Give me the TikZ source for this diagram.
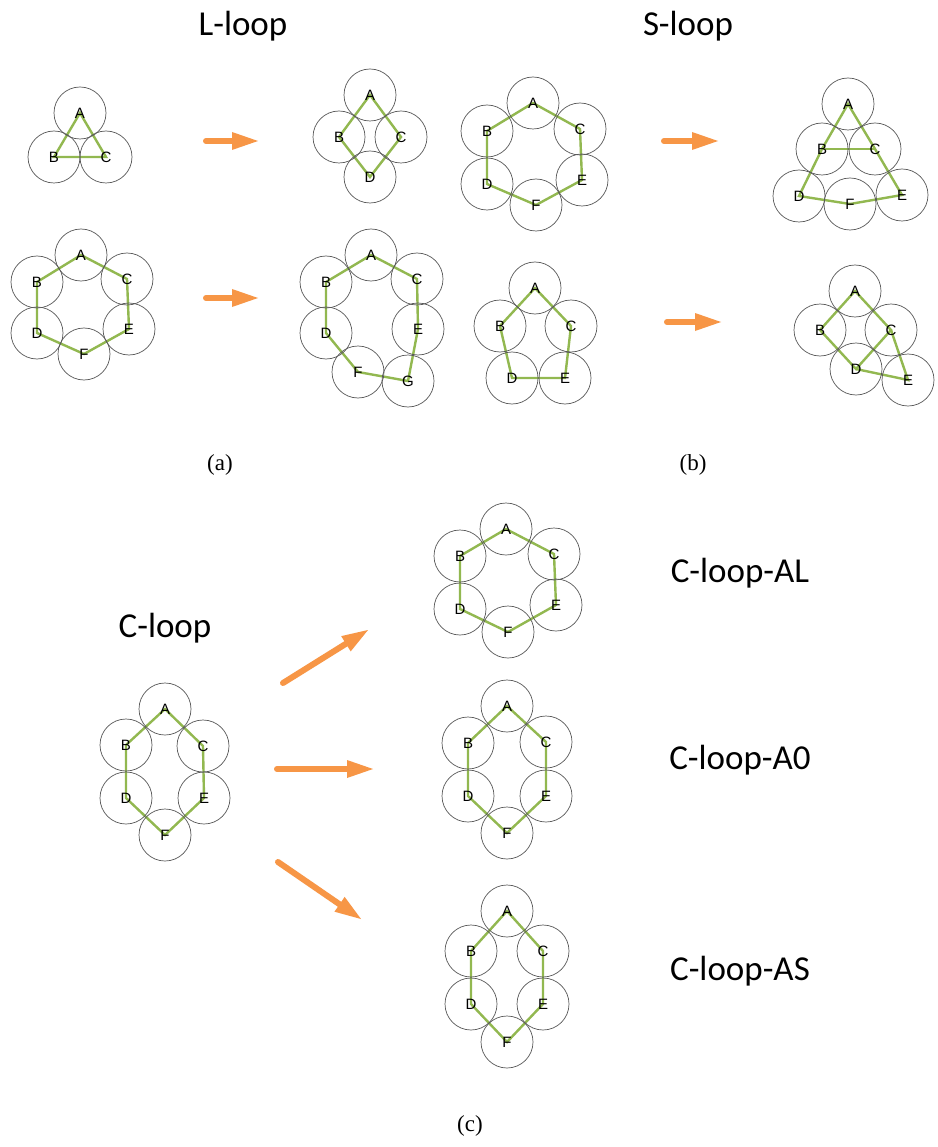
\documentclass[tikz,border=0pt]{standalone}
\usepackage{fontspec}
\setmainfont{Liberation Serif}
\newfontfamily\titlefont{Carlito}
\newfontfamily\letterfont{Liberation Sans}
\usetikzlibrary{arrows.meta,backgrounds}
\definecolor{ringgreen}{HTML}{92B850}
\definecolor{arroworange}{HTML}{F79646}
\definecolor{ringgray}{HTML}{595959}
\tikzset{
  ring/.style={circle,draw=ringgray,line width=0.7pt,minimum size=52pt,inner sep=0pt,
    font=\letterfont\fontsize{15}{15}\selectfont},
  bond/.style={draw=ringgreen,line width=2.4pt},
  bigarrow/.style={draw=arroworange,fill=arroworange,line width=6pt,line cap=round,
    -{Triangle[length=26pt,width=18pt,line width=0pt]}},
  title/.style={font=\titlefont\fontsize{35}{35}\selectfont,anchor=base},
  caption/.style={font=\fontsize{23}{23}\selectfont,anchor=base}
}
\newcommand{\hexbonds}[1]{%
  \draw[bond] (#1B.center) -- (#1A.center) -- (#1C.center) -- (#1E.center) -- (#1F.center) -- (#1D.center) -- cycle;}
\begin{document}
\begin{tikzpicture}[x=1pt,y=-1pt]
\useasboundingbox (0,0) rectangle (937,1147);

% titles
\node[title] (tL) at (243,36) {L-loop};
\node[title] (tS) at (688,36) {S-loop};
\node[title] (tC) at (165,637) {C-loop};
\node[title] (tAL) at (740,582) {C-loop-AL};
\node[title] (tA0) at (740,769) {C-loop-A0};
\node[title] (tAS) at (740,980) {C-loop-AS};

% captions
\node[caption] (capa) at (220,470) {(a)};
\node[caption] (capb) at (693,470) {(b)};
\node[caption] (capc) at (470,1131) {(c)};

% ---- (a) row 1 left
\node[ring] (aaA) at (80,113) {A};
\node[ring] (aaB) at (54,157) {B};
\node[ring] (aaC) at (106,157) {C};
% ---- (a) row 1 right
\node[ring] (abA) at (370,95) {A};
\node[ring] (abB) at (339,137) {B};
\node[ring] (abC) at (401,137) {C};
\node[ring] (abD) at (370,177) {D};
% ---- (a) row 2 left
\node[ring] (acA) at (81,255) {A};
\node[ring] (acB) at (37,282) {B};
\node[ring] (acC) at (127,279) {C};
\node[ring] (acD) at (37,333) {D};
\node[ring] (acE) at (129,329) {E};
\node[ring] (acF) at (84,354) {F};
% ---- (a) row 2 right
\node[ring] (adA) at (371,255) {A};
\node[ring] (adB) at (326,282) {B};
\node[ring] (adC) at (417,279) {C};
\node[ring] (adD) at (326,333) {D};
\node[ring] (adE) at (418,329) {E};
\node[ring] (adF) at (358,372) {F};
\node[ring] (adG) at (408,381) {G};
% ---- (b) row 1 left
\node[ring] (baA) at (533,103) {A};
\node[ring] (baB) at (487,131) {B};
\node[ring] (baC) at (580,129) {C};
\node[ring] (baD) at (487,184) {D};
\node[ring] (baE) at (582,180) {E};
\node[ring] (baF) at (536,205) {F};
% ---- (b) row 1 right
\node[ring] (bbA) at (848,104) {A};
\node[ring] (bbB) at (822,149) {B};
\node[ring] (bbC) at (875,149) {C};
\node[ring] (bbD) at (799,196) {D};
\node[ring] (bbE) at (902,195) {E};
\node[ring] (bbF) at (850,204) {F};
% ---- (b) row 2 left
\node[ring] (bcA) at (535,288) {A};
\node[ring] (bcB) at (500,326) {B};
\node[ring] (bcC) at (571,326) {C};
\node[ring] (bcD) at (512,378) {D};
\node[ring] (bcE) at (565,378) {E};
% ---- (b) row 2 right
\node[ring] (bdA) at (855,291) {A};
\node[ring] (bdB) at (820,330) {B};
\node[ring] (bdC) at (891,330) {C};
\node[ring] (bdD) at (856,369) {D};
\node[ring] (bdE) at (908,380) {E};
% ---- (c) C-loop
\node[ring] (caA) at (165,709) {A};
\node[ring] (caB) at (126,745) {B};
\node[ring] (caC) at (203,746) {C};
\node[ring] (caD) at (126,798) {D};
\node[ring] (caE) at (204,798) {E};
\node[ring] (caF) at (165,835) {F};
% ---- (c) AL
\node[ring] (cbA) at (506,529) {A};
\node[ring] (cbB) at (460,556) {B};
\node[ring] (cbC) at (554,554) {C};
\node[ring] (cbD) at (460,609) {D};
\node[ring] (cbE) at (556,605) {E};
\node[ring] (cbF) at (508,632) {F};
% ---- (c) A0
\node[ring] (ccA) at (507,706) {A};
\node[ring] (ccB) at (468,743) {B};
\node[ring] (ccC) at (546,742) {C};
\node[ring] (ccD) at (468,796) {D};
\node[ring] (ccE) at (546,796) {E};
\node[ring] (ccF) at (507,833) {F};
% ---- (c) AS
\node[ring] (cdA) at (507,911) {A};
\node[ring] (cdB) at (471,951) {B};
\node[ring] (cdC) at (543,951) {C};
\node[ring] (cdD) at (471,1004) {D};
\node[ring] (cdE) at (543,1004) {E};
\node[ring] (cdF) at (507,1042) {F};

\begin{scope}[on background layer]
\fill[white] (0,0) rectangle (937,1147);
\draw[bond] (aaA.center) -- (aaB.center) -- (aaC.center) -- cycle;
\draw[bond] (abA.center) -- (abB.center) -- (abD.center) -- (abC.center) -- cycle;
\hexbonds{ac}
\draw[bond] (adA.center) -- (adB.center) -- (adD.center) -- (adF.center) -- (adG.center) -- (adE.center) -- (adC.center) -- cycle;
\hexbonds{ba}
\draw[bond] (bbA.center) -- (bbB.center) -- (bbD.center) -- (bbF.center) -- (bbE.center) -- (bbC.center) -- cycle;
\draw[bond] (bbB.center) -- (bbC.center);
\draw[bond] (bcA.center) -- (bcB.center) -- (bcD.center) -- (bcE.center) -- (bcC.center) -- cycle;
\draw[bond] (bdA.center) -- (bdB.center) -- (bdD.center) -- (bdC.center) -- cycle;
\draw[bond] (bdC.center) -- (bdE.center) -- (bdD.center);
\hexbonds{ca}
\hexbonds{cb}
\hexbonds{cc}
\hexbonds{cd}
\end{scope}

% arrows
\coordinate (ar1s) at (206,141); \coordinate (ar1e) at (258,141);
\coordinate (ar2s) at (206,298); \coordinate (ar2e) at (258,298);
\coordinate (ar3s) at (664,141); \coordinate (ar3e) at (718,141);
\coordinate (ar4s) at (667,322); \coordinate (ar4e) at (721,322);
\coordinate (ar5s) at (283,683); \coordinate (ar5e) at (368,630);
\coordinate (ar6s) at (277,769); \coordinate (ar6e) at (373,769);
\coordinate (ar7s) at (278,862); \coordinate (ar7e) at (361,919);
\foreach \i in {1,...,7} {\draw[bigarrow] (ar\i s) -- (ar\i e);}
\end{tikzpicture}
\end{document}
